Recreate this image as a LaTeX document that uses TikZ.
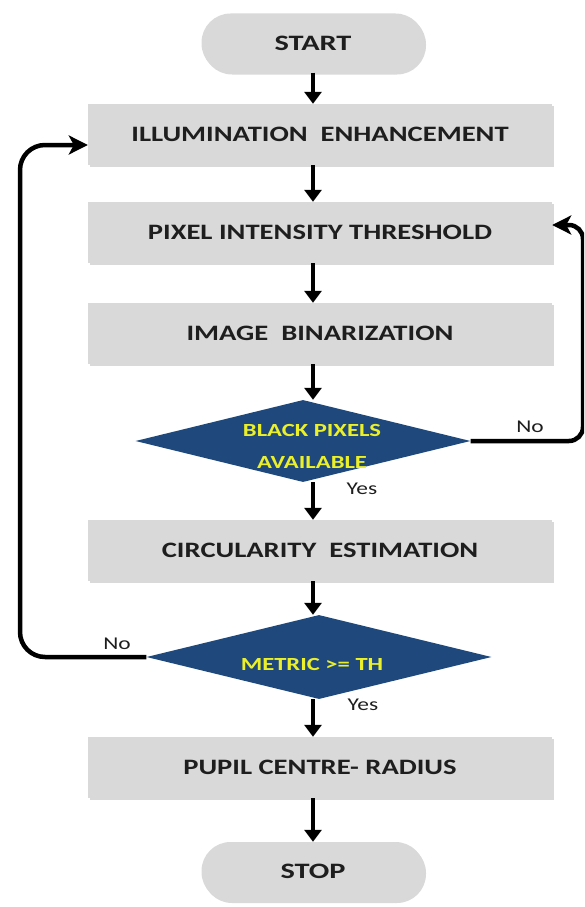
\documentclass[tikz,border=0pt]{standalone}
\usepackage{fontspec}
\setmainfont{Carlito}
\usepackage{graphicx}
\usetikzlibrary{arrows.meta,shapes.geometric,shadows}

\definecolor{boxgray}{RGB}{217,217,217}
\definecolor{deepblue}{RGB}{31,73,125}
\definecolor{signyellow}{RGB}{236,240,40}
\definecolor{ink}{RGB}{30,30,30}

% horizontally widened text
\newcommand{\stretchtxt}[2][1.3]{\scalebox{#1}[1]{#2}}

\tikzset{
  softshadow/.style={drop shadow={shadow xshift=1.5pt, shadow yshift=-2pt, fill=black, opacity=0.15}},
  procbox/.style={rectangle, fill=boxgray, minimum width=464pt, minimum height=61pt,
    inner sep=0pt, softshadow, font=\bfseries\fontsize{22}{26}\selectfont, text=ink},
  terminal/.style={rectangle, rounded corners=29pt, fill=boxgray, minimum width=223pt,
    minimum height=59pt, inner sep=0pt, softshadow, font=\bfseries\fontsize{22}{26}\selectfont, text=ink},
  decision/.style={diamond, fill=deepblue, inner sep=0pt},
  dectext/.style={font=\bfseries\fontsize{18.5}{32}\selectfont, text=signyellow, inner sep=0pt},
  flowlabel/.style={font=\fontsize{18}{20}\selectfont, text=ink, inner sep=0pt},
  flow/.style={line width=4.5pt, -{Triangle[width=17pt,length=12pt]}},
  loopback/.style={line width=4.5pt, rounded corners=25pt, -{Stealth[width=19pt,length=19pt,inset=5pt]}},
}

\begin{document}
\begin{tikzpicture}
\path[use as bounding box] (0,0) rectangle (584pt,-907pt);
\clip (0,0) rectangle (584pt,-907pt);
\begin{scope}[x=1pt,y=1pt]

% terminals and process steps
\node[terminal] (st) at (313,-43) {\stretchtxt[1.38]{START}};
\node[procbox] (b1) at (320,-134.5) {\stretchtxt{ILLUMINATION\ \ ENHANCEMENT}};
\node[procbox] (b2) at (320,-232.5) {\stretchtxt{PIXEL INTENSITY THRESHOLD}};
\node[procbox] (b3) at (320,-333.5) {\stretchtxt{IMAGE\ \ BINARIZATION}};

% first decision
\node[decision, minimum width=335pt, minimum height=82pt] (d1) at (303,-441) {};
\node[dectext] (d1t) at (312,-446)
  {\stretchtxt[1.33]{\begin{tabular}{@{}c@{}}BLACK PIXELS\\AVAILABLE\end{tabular}}};

\node[procbox] (b4) at (320,-550.5) {\stretchtxt{CIRCULARITY\ \ ESTIMATION}};

% second decision
\node[decision, minimum width=345pt, minimum height=84pt] (d2) at (319,-657) {};
\node[dectext] (d2t) at (312,-664) {\stretchtxt[1.33]{METRIC >= TH}};

\node[procbox] (b5) at (320,-767.5) {\stretchtxt{PUPIL CENTRE- RADIUS}};
\node[terminal] (sp) at (313,-871.5) {\stretchtxt[1.38]{STOP}};

% main downward flow
\draw[flow] (st.south) -- (st.south |- b1.north);
\draw[flow] (st.south |- b1.south) -- (st.south |- b2.north);
\draw[flow] (st.south |- b2.south) -- (st.south |- b3.north);
\draw[flow] (st.south |- b3.south) -- (st.south |- d1.north);
\draw[flow] (st.south |- d1.south) -- (st.south |- b4.north);
\draw[flow] (st.south |- b4.south) -- (st.south |- d2.north);
\draw[flow] (st.south |- d2.south) -- (st.south |- b5.north);
\draw[flow] (st.south |- b5.south) -- (sp.north);

% feedback loops
\coordinate (rturn) at (583,-225);
\draw[loopback, rounded corners=14pt] (d1.east) -| (rturn) -- (b2.east |- rturn);
\coordinate (lturn) at (20,-145);
\draw[loopback] (d2.west) -| (lturn) -- (b1.west |- lturn);

% branch labels
\node[flowlabel] (no1) at (530,-427) {\stretchtxt{No}};
\node[flowlabel] (yes1) at (362,-489) {\stretchtxt{Yes}};
\node[flowlabel] (no2) at (117,-644) {\stretchtxt{No}};
\node[flowlabel] (yes2) at (363,-705) {\stretchtxt{Yes}};
\end{scope}
\end{tikzpicture}
\end{document}
